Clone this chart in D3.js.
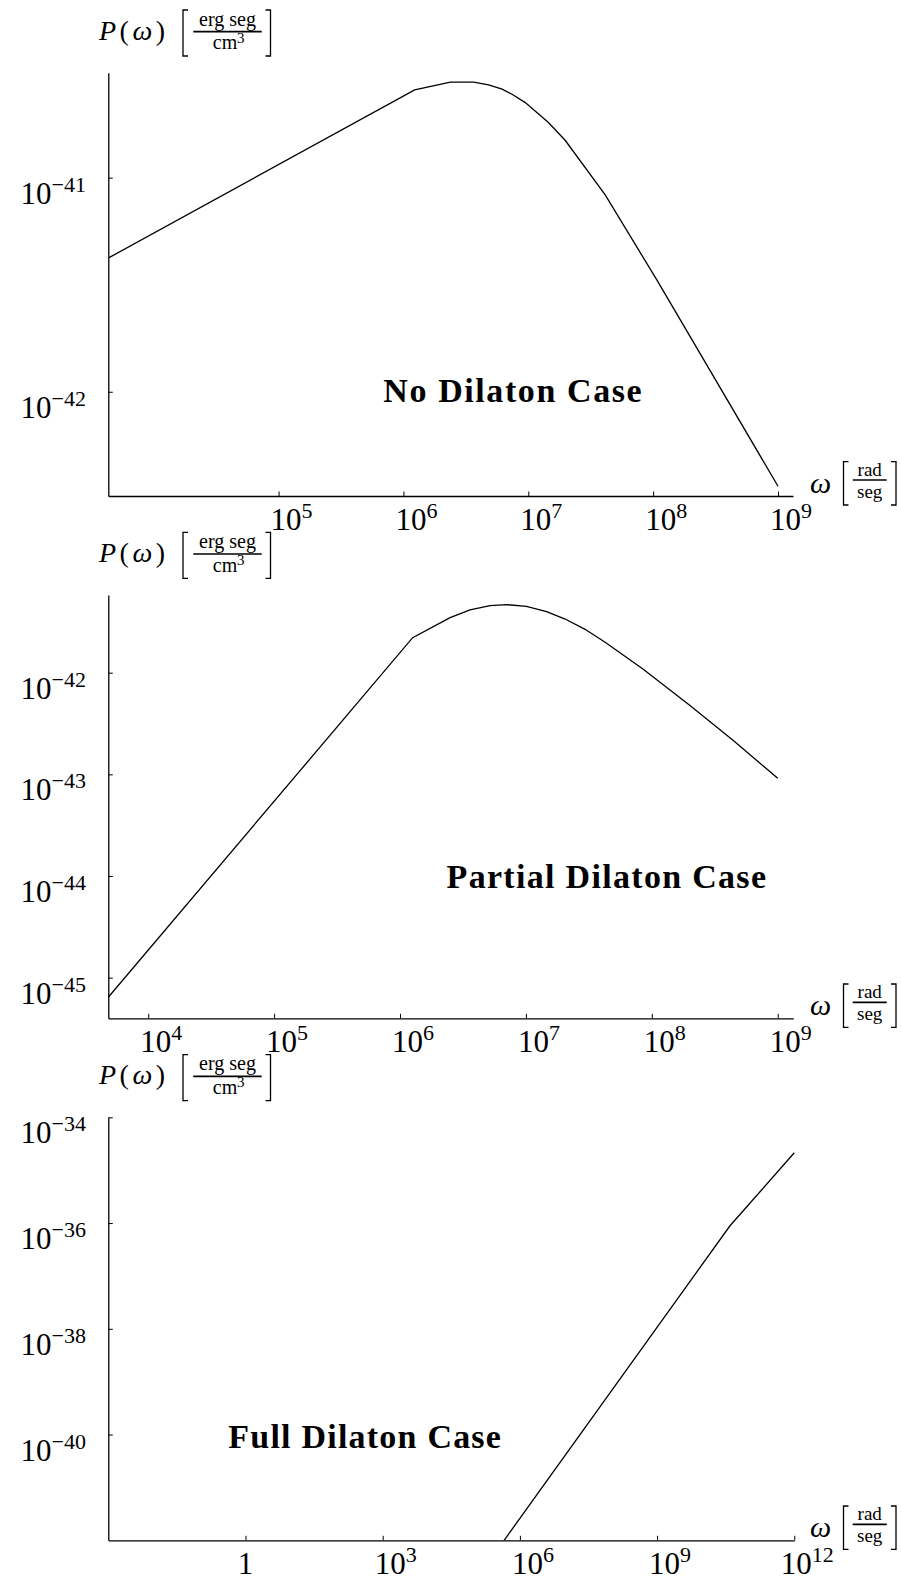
<!DOCTYPE html>
<html><head><meta charset="utf-8">
<script src="https://cdn.jsdelivr.net/npm/d3@7"></script>
<style>body{margin:0;background:#fff}svg{display:block}</style>
</head><body>
<svg id="c" width="901" height="1581"></svg>
<script>
// ---- data ----
const p1Omega = [4.39e3, 1.23e6, 2.38e6, 3.65e6, 4.81e6, 6.17e6, 7.41e6, 9.46e6, 1.45e7, 1.98e7, 4.13e7, 1.07e8, 1.0e9];
const p1Power = [4.23e-42, 2.57e-41, 2.79e-41, 2.79e-41, 2.71e-41, 2.59e-41, 2.45e-41, 2.24e-41, 1.81e-41, 1.49e-41, 8.30e-42, 3.33e-42, 3.62e-43];
const p2Omega = [4.82e3, 1.26e6, 2.50e6, 3.60e6, 5.19e6, 7.05e6, 1.01e7, 1.46e7, 2.05e7, 2.95e7, 4.26e7, 8.55e7, 2.01e8, 4.44e8, 1.0e9];
const p2Power = [6.41e-46, 2.21e-42, 3.48e-42, 4.14e-42, 4.56e-42, 4.67e-42, 4.50e-42, 3.98e-42, 3.37e-42, 2.67e-42, 1.99e-42, 1.08e-42, 4.75e-43, 2.15e-43, 9.14e-44];
const p3Omega = [4.52e5, 3.89e10, 1.0e12];
const p3Power = [1.0e-42, 8.79e-37, 2.14e-35];
const p1XTicks = [1e5, 1e6, 1e7, 1e8, 1e9];
const p1YTicks = [1e-41, 1e-42];
const p2XTicks = [1e4, 1e5, 1e6, 1e7, 1e8, 1e9];
const p2YTicks = [1e-42, 1e-43, 1e-44, 1e-45];
const p3XTicks = [1, 1e3, 1e6, 1e9, 1e12];
const p3YTicks = [1e-34, 1e-36, 1e-38, 1e-40];
const caseLabels = ["No Dilaton Case", "Partial Dilaton Case", "Full Dilaton Case"];
const yLabelNum = "erg seg", yLabelDen = "cm", yLabelDenExp = "3", xLabelNum = "rad", xLabelDen = "seg";

// ---- layout ----
const serif = "'Liberation Serif','Times New Roman',serif";
const panels = [
  {om:p1Omega, pw:p1Power, xt:p1XTicks, yt:p1YTicks, label:caseLabels[0],
   x0:108.3, x1:793, yT:72.7, yB:496, xDom:[4.33e3,1.318e9], yDom:[3.26e-43,3.09e-41],
   lab:{x0:383.3, x1:641.7, y:401.7}},
  {om:p2Omega, pw:p2Power, xt:p2XTicks, yt:p2YTicks, label:caseLabels[1],
   x0:108.3, x1:793.3, yT:595, yB:1018.3, xDom:[4.82e3,1.33e9], yDom:[3.98e-46,5.81e-42],
   lab:{x0:446.6, x1:766, y:888.3}},
  {om:p3Omega, pw:p3Power, xt:p3XTicks, yt:p3YTicks, label:caseLabels[2],
   x0:108.3, x1:794.3, yT:1117.3, yB:1540.3, xDom:[1e-3,1e12], yDom:[1e-42,1e-34],
   lab:{x0:228.3, x1:500.9, y:1448.3}}
];

const svg = d3.select("#c");

function powLabel(t, v) {
  const e = Math.round(Math.log10(v));
  if (e === 0) { t.append("tspan").text("1"); return; }
  t.append("tspan").text("10");
  t.append("tspan").attr("dy", -12).attr("font-size", 22).text(e < 0 ? "\u2212" + (-e) : String(e));
}

function bracket(g, x, y1, y2, dir) {
  g.append("path")
    .attr("d", `M${x + dir*5},${y1}H${x}V${y2}H${x + dir*5}`)
    .attr("fill", "none").attr("stroke", "#000").attr("stroke-width", 1.3);
}

panels.forEach(p => {
  const g = svg.append("g");
  const x = d3.scaleLog().domain(p.xDom).range([p.x0, p.x1]);
  const y = d3.scaleLog().domain(p.yDom).range([p.yB, p.yT]);

  const xa = d3.axisBottom(x).tickValues(p.xt).tickFormat("").tickSizeInner(-4.5).tickSizeOuter(0);
  const ya = d3.axisLeft(y).tickValues(p.yt).tickFormat("").tickSizeInner(-4.5).tickSizeOuter(0);
  const gx = g.append("g").attr("transform", `translate(0,${p.yB})`).call(xa);
  const gy = g.append("g").attr("transform", `translate(${p.x0},0)`).call(ya);
  [gx, gy].forEach(a => {
    a.select(".domain").attr("stroke", "#000").attr("stroke-width", 1.3);
    a.selectAll(".tick line").attr("stroke", "#000").attr("stroke-width", 1);
  });

  // x tick labels
  p.xt.forEach(v => {
    const one = Math.round(Math.log10(v)) === 0;
    const t = g.append("text").attr("x", x(v) + (one ? 0 : 13)).attr("y", p.yB + 34)
      .attr("text-anchor", "middle").attr("font-family", serif).attr("font-size", 31).attr("fill", "#000");
    powLabel(t, v);
  });
  // y tick labels
  p.yt.forEach(v => {
    const t = g.append("text").attr("x", 86).attr("y", y(v) + 26)
      .attr("text-anchor", "end").attr("font-family", serif).attr("font-size", 31).attr("fill", "#000");
    powLabel(t, v);
  });

  // curve
  const pts = p.om.map((o, i) => [o, p.pw[i]]);
  g.append("path").datum(pts)
    .attr("d", d3.line().x(d => x(d[0])).y(d => y(d[1])))
    .attr("fill", "none").attr("stroke", "#000").attr("stroke-width", 1.3);

  // y axis label  P(ω) [erg seg / cm^3]
  const T = p.yT;
  const pl = g.append("text").attr("x", 99).attr("y", T - 33)
    .attr("font-family", serif).attr("font-size", 28).attr("fill", "#000")
    .attr("textLength", 66).attr("lengthAdjust", "spacing");
  pl.append("tspan").attr("font-style", "italic").text("P");
  pl.append("tspan").text("(");
  pl.append("tspan").attr("font-style", "italic").text("\u03c9");
  pl.append("tspan").text(")");
  bracket(g, 183, T - 62.7, T - 16.7, 1);
  bracket(g, 270.5, T - 62.7, T - 16.7, -1);
  g.append("line").attr("x1", 193.3).attr("x2", 261.7).attr("y1", T - 41).attr("y2", T - 41)
    .attr("stroke", "#000").attr("stroke-width", 1.7);
  g.append("text").attr("x", 227.5).attr("y", T - 47).attr("text-anchor", "middle")
    .attr("font-family", serif).attr("font-size", 20).attr("fill", "#000").text(yLabelNum);
  g.append("text").attr("x", 225).attr("y", T - 23.5).attr("text-anchor", "middle")
    .attr("font-family", serif).attr("font-size", 20).attr("fill", "#000").text(yLabelDen);
  g.append("text").attr("x", 237).attr("y", T - 30).attr("text-anchor", "start")
    .attr("font-family", serif).attr("font-size", 15).attr("fill", "#000").text(yLabelDenExp);

  // x axis label  ω [rad/seg]
  const A = p.yB;
  g.append("text").attr("x", 810).attr("y", A - 3)
    .attr("font-family", serif).attr("font-size", 30).attr("font-style", "italic").attr("fill", "#000").text("\u03c9");
  bracket(g, 843.5, A - 34.3, A + 9, 1);
  bracket(g, 896, A - 34.3, A + 9, -1);
  g.append("line").attr("x1", 852.7).attr("x2", 886.7).attr("y1", A - 16).attr("y2", A - 16)
    .attr("stroke", "#000").attr("stroke-width", 1.7);
  g.append("text").attr("x", 869.7).attr("y", A - 20).attr("text-anchor", "middle")
    .attr("font-family", serif).attr("font-size", 19).attr("fill", "#000").text(xLabelNum);
  g.append("text").attr("x", 869.7).attr("y", A + 1.5).attr("text-anchor", "middle")
    .attr("font-family", serif).attr("font-size", 19).attr("fill", "#000").text(xLabelDen);

  // case annotation
  g.append("text").attr("x", p.lab.x0).attr("y", p.lab.y)
    .attr("font-family", serif).attr("font-weight", "bold").attr("font-size", 34).attr("fill", "#000")
    .attr("textLength", p.lab.x1 - p.lab.x0).attr("lengthAdjust", "spacing")
    .text(p.label);
});
</script>
</body></html>
